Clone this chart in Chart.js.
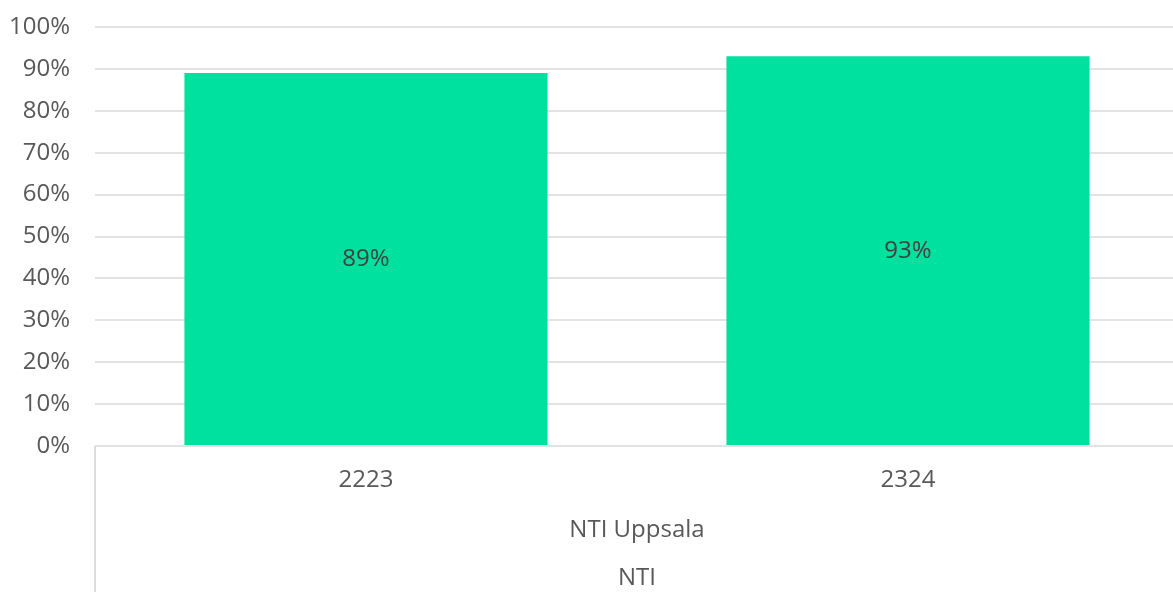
<!DOCTYPE html>
<html>
<head>
<meta charset="utf-8">
<script src="https://cdn.jsdelivr.net/npm/chart.js@4"></script>
<style>
  html, body { margin: 0; padding: 0; background: #ffffff; overflow: hidden; }
  #wrap { width: 1173px; height: 592px; overflow: hidden; position: relative; }
  #c { position: absolute; left: 0; top: 0; }
</style>
</head>
<body>
<div id="wrap"><canvas id="c" width="1179" height="592"></canvas></div>
<script>
const categories = ['2223', '2324'];
const groupLevel1 = ['NTI Uppsala'];
const groupLevel2 = ['NTI'];
const values = [89, 93];
const yTicks = [0, 10, 20, 30, 40, 50, 60, 70, 80, 90, 100];

const FONT = '"Open Sans", "Liberation Sans", sans-serif';
const BAR_COLOR = '#00E09F';

const barLabels = {
  id: 'barLabels',
  afterDatasetsDraw(chart) {
    const ctx = chart.ctx;
    const meta = chart.getDatasetMeta(0);
    ctx.save();
    ctx.font = '24px ' + FONT;
    ctx.fillStyle = '#404040';
    ctx.textAlign = 'center';
    ctx.textBaseline = 'middle';
    meta.data.forEach((el, i) => {
      const v = chart.data.datasets[0].data[i];
      ctx.fillText(v + '%', el.x, (el.y + el.base) / 2);
    });
    ctx.restore();
  }
};

const leftDivider = {
  id: 'leftDivider',
  afterDraw(chart) {
    const ctx = chart.ctx;
    const a = chart.chartArea;
    ctx.save();
    ctx.strokeStyle = '#dcdcdc';
    ctx.lineWidth = 2;
    ctx.beginPath();
    ctx.moveTo(a.left, a.bottom);
    ctx.lineTo(a.left, chart.height);
    ctx.stroke();
    ctx.restore();
  }
};

function fitX(h) {
  return (s) => {
    s.height = h;
    s.paddingLeft = 0;
    s.paddingRight = 0;
  };
}

new Chart(document.getElementById('c'), {
  type: 'bar',
  data: {
    labels: categories,
    datasets: [{
      data: values,
      backgroundColor: BAR_COLOR,
      borderWidth: 0,
      barPercentage: 0.67,
      categoryPercentage: 1.0
    }]
  },
  options: {
    responsive: false,
    animation: false,
    layout: { padding: { top: 27, right: 0, bottom: 0, left: 0 } },
    plugins: { legend: { display: false }, tooltip: { enabled: false } },
    scales: {
      y: {
        min: 0,
        max: 100,
        afterBuildTicks: (s) => { s.ticks = yTicks.map(v => ({ value: v })); },
        afterFit: (s) => {
          s.width = 95;
          s.paddingTop = 0;
          s.paddingBottom = 0;
        },
        ticks: {
          padding: 25,
          color: '#595959',
          font: { family: FONT, size: 24 },
          callback: (v) => v + '%'
        },
        grid: { color: '#e3e3e3', lineWidth: 2, drawTicks: false },
        border: { display: false }
      },
      x: {
        position: 'bottom',
        afterFit: fitX(50),
        ticks: { padding: 12, color: '#595959', font: { family: FONT, size: 24 }, maxRotation: 0 },
        grid: { display: false },
        border: { display: false }
      },
      x2: {
        type: 'category',
        labels: groupLevel1,
        position: 'bottom',
        offset: true,
        afterFit: fitX(48),
        ticks: { padding: 12, color: '#595959', font: { family: FONT, size: 24 }, maxRotation: 0 },
        grid: { display: false },
        border: { display: false }
      },
      x3: {
        type: 'category',
        labels: groupLevel2,
        position: 'bottom',
        offset: true,
        afterFit: fitX(48),
        ticks: { padding: 12, color: '#595959', font: { family: FONT, size: 24 }, maxRotation: 0 },
        grid: { display: false },
        border: { display: false }
      }
    }
  },
  plugins: [barLabels, leftDivider]
});
</script>
</body>
</html>
